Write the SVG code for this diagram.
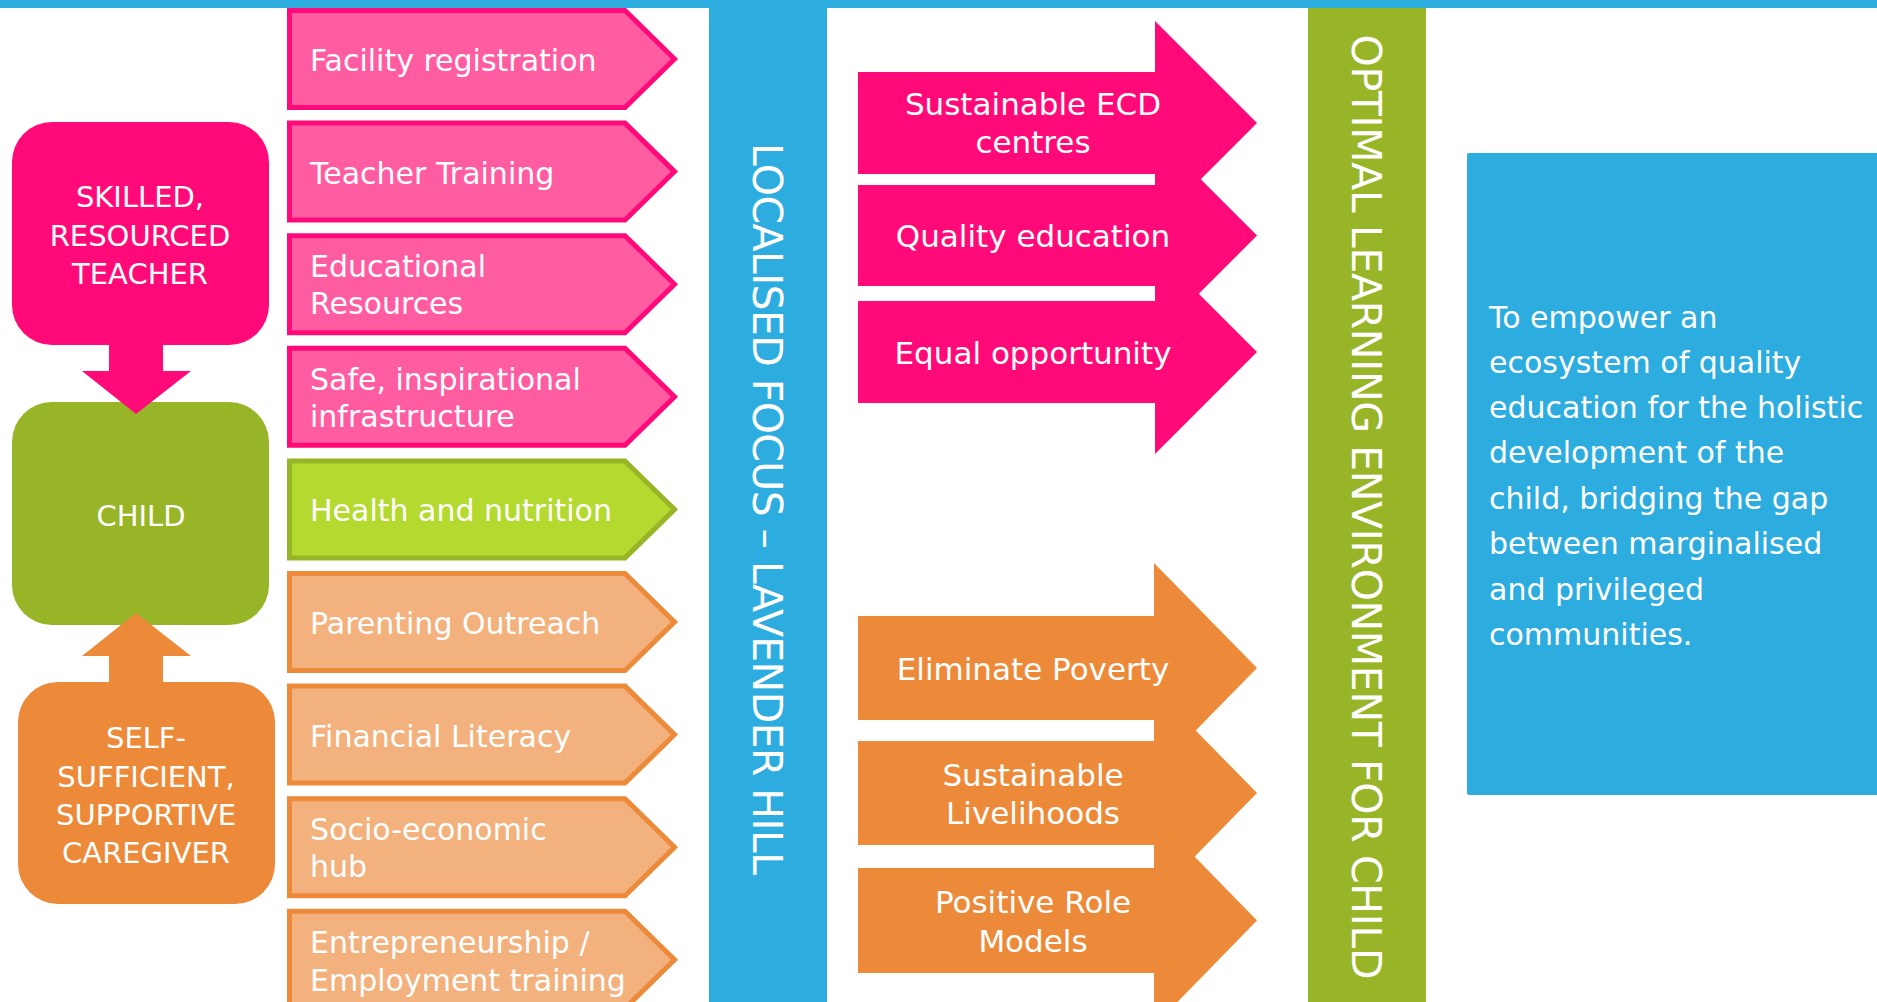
<svg xmlns="http://www.w3.org/2000/svg" width="1877" height="1002" viewBox="0 0 1877 1002">
<style>
text{font-family:"DejaVu Sans","Liberation Sans",sans-serif;fill:#fff}
.la{font-size:30px}
.ma{font-size:31px;text-anchor:middle}
.bx{font-size:29px;text-anchor:middle}
.vt{font-size:41px;text-anchor:middle}
.rt{font-size:30px}
.pk{fill:#FF5CA2;stroke:#FF0A78;stroke-width:5}
.gr{fill:#B4D92F;stroke:#97B526;stroke-width:5}
.or{fill:#F3B17D;stroke:#ED8A3A;stroke-width:5}
</style>
<defs>
<path id="chev" d="M289.5,2.5 L625,2.5 L674.5,51 L625,99.5 L289.5,99.5 Z"/>
</defs>
<rect width="1877" height="1002" fill="#fff"/>

<g id="left-chevrons">
<g id="facility" transform="translate(0,8)"><use href="#chev" class="pk"/><text class="la" x="310" y="63">Facility registration</text></g>
<g id="teacher-training" transform="translate(0,120.6)"><use href="#chev" class="pk"/><text class="la" x="310" y="63">Teacher Training</text></g>
<g id="educational-resources" transform="translate(0,233.2)"><use href="#chev" class="pk"/><text class="la" x="310" y="44">Educational</text><text class="la" x="310" y="81">Resources</text></g>
<g id="safe-infrastructure" transform="translate(0,345.8)"><use href="#chev" class="pk"/><text class="la" x="310" y="44">Safe, inspirational</text><text class="la" x="310" y="81">infrastructure</text></g>
<g id="health" transform="translate(0,458.4)"><use href="#chev" class="gr"/><text class="la" x="310" y="63">Health and nutrition</text></g>
<g id="parenting" transform="translate(0,571)"><use href="#chev" class="or"/><text class="la" x="310" y="63">Parenting Outreach</text></g>
<g id="financial" transform="translate(0,683.6)"><use href="#chev" class="or"/><text class="la" x="310" y="63">Financial Literacy</text></g>
<g id="socio" transform="translate(0,796.2)"><use href="#chev" class="or"/><text class="la" x="310" y="44">Socio-economic</text><text class="la" x="310" y="81">hub</text></g>
<g id="entrepreneurship" transform="translate(0,908.8)"><use href="#chev" class="or"/><text class="la" x="310" y="44">Entrepreneurship /</text><text class="la" x="310" y="82">Employment training</text></g>
</g>

<g id="teacher"><rect x="12" y="122" width="257" height="223" rx="40" fill="#FF0A78"/>
<text class="bx" x="140" y="207">SKILLED,</text><text class="bx" x="140" y="246">RESOURCED</text><text class="bx" x="140" y="284">TEACHER</text></g>
<g id="child"><rect x="12" y="402" width="257" height="223" rx="40" fill="#97B526"/>
<text class="bx" x="141" y="526">CHILD</text></g>
<g id="caregiver"><rect x="18" y="682" width="257" height="222" rx="40" fill="#ED8A3A"/>
<text class="bx" x="146" y="748">SELF-</text><text class="bx" x="146" y="787">SUFFICIENT,</text><text class="bx" x="146" y="825">SUPPORTIVE</text><text class="bx" x="146" y="863">CAREGIVER</text></g>

<g id="connectors">
<polygon points="109,344 163,344 163,371 191,371 136,414 82,371 109,371" fill="#FF0A78"/>
<polygon points="136,613 191,656 163,656 163,683 109,683 109,656 82,656" fill="#ED8A3A"/>
</g>

<g id="localised-focus"><rect x="709" y="0" width="118" height="1002" fill="#2DACDF"/>
<text class="vt" transform="translate(753,509) rotate(90)" textLength="732" lengthAdjust="spacing">LOCALISED FOCUS – LAVENDER HILL</text></g>

<g id="optimal"><rect x="1308" y="0" width="118" height="1002" fill="#97B526"/>
<text class="vt" transform="translate(1352,507) rotate(90)" textLength="945" lengthAdjust="spacing">OPTIMAL LEARNING ENVIRONMENT FOR CHILD</text></g>

<rect id="top-bar" x="0" y="0" width="1877" height="8" fill="#2DACDF"/>

<g id="outcomes-pink" fill="#FF0A78">
<g id="sustainable-ecd"><polygon points="858,72 1155,72 1155,21 1257,123 1155,225 1155,174 858,174"/></g>
<g id="quality-education"><polygon points="858,185 1155,185 1155,133.5 1257,235.5 1155,337.5 1155,286 858,286"/></g>
<g id="equal-opportunity"><polygon points="858,301 1155,301 1155,250 1257,352 1155,454 1155,403 858,403"/></g>
<text class="ma" x="1033" y="115">Sustainable ECD</text><text class="ma" x="1033" y="153">centres</text>
<text class="ma" x="1033" y="247">Quality education</text>
<text class="ma" x="1033" y="364">Equal opportunity</text>
</g>

<g id="outcomes-orange" fill="#ED8A3A">
<g id="eliminate-poverty"><polygon points="858,616 1154,616 1154,563 1257,668 1154,773 1154,720 858,720"/></g>
<g id="sustainable-livelihoods"><polygon points="858,741 1154,741 1154,688 1257,793 1154,898 1154,845 858,845"/></g>
<g id="positive-role-models"><polygon points="858,868 1154,868 1154,815 1257,920.5 1154,1026 1154,973 858,973"/></g>
<text class="ma" x="1033" y="680">Eliminate Poverty</text>
<text class="ma" x="1033" y="786">Sustainable</text><text class="ma" x="1033" y="824">Livelihoods</text>
<text class="ma" x="1033" y="913">Positive Role</text><text class="ma" x="1033" y="952">Models</text>
</g>

<g id="mission"><rect x="1467" y="153" width="420" height="642" rx="2" fill="#2DACDF"/>
<text class="rt" x="1489" y="328">To empower an</text>
<text class="rt" x="1489" y="373">ecosystem of quality</text>
<text class="rt" x="1489" y="418">education for the holistic</text>
<text class="rt" x="1489" y="463">development of the</text>
<text class="rt" x="1489" y="509">child, bridging the gap</text>
<text class="rt" x="1489" y="554">between marginalised</text>
<text class="rt" x="1489" y="600">and privileged</text>
<text class="rt" x="1489" y="645">communities.</text>
</g>
</svg>
